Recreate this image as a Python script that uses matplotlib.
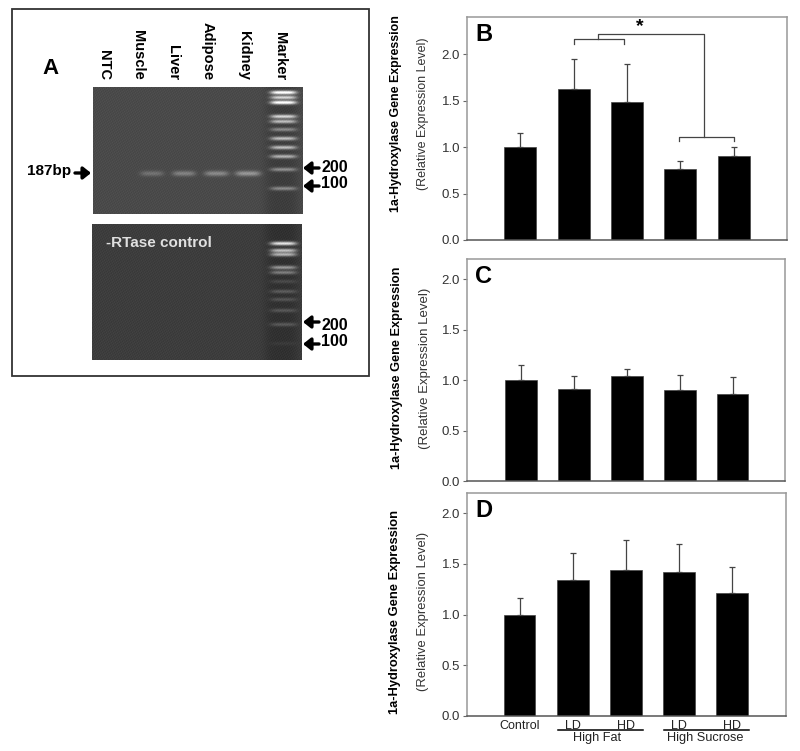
import numpy as np
import matplotlib
matplotlib.use("Agg")
import matplotlib.pyplot as plt
from matplotlib.patches import Rectangle

plt.rcParams["font.family"] = ["Liberation Sans", "DejaVu Sans"]

W, H = 800, 751

# bar panels
groups = ["Control", "LD", "HD", "LD", "HD"]
y_ticks = [0.0, 0.5, 1.0, 1.5, 2.0]
values_b = [1.00, 1.63, 1.49, 0.76, 0.90]
errors_b = [0.15, 0.32, 0.40, 0.09, 0.10]
values_c = [1.00, 0.91, 1.04, 0.90, 0.86]
errors_c = [0.15, 0.13, 0.07, 0.15, 0.17]
values_d = [1.00, 1.34, 1.44, 1.42, 1.21]
errors_d = [0.16, 0.27, 0.30, 0.28, 0.26]

# gel panel, band positions in pixels
lanes = ["NTC", "Muscle", "Liver", "Adipose", "Kidney", "Marker"]
lane_x = [104, 138, 173, 208, 244, 280]
sample_bands = [(140, 163, 0.16), (172, 195, 0.22), (204, 228, 0.25), (235, 260, 0.30)]
marker_top = [(92, 0.8), (97, 0.6), (102, 0.8), (116, 0.6), (121, 0.5), (129, 0.3),
              (138, 0.5), (147, 0.5), (156, 0.45), (169, 0.32), (188, 0.3)]
marker_bottom = [(243, 0.7), (250, 0.55), (254, 0.5), (267, 0.4), (272, 0.3), (281, 0.1),
                 (291, 0.17), (299, 0.14), (310, 0.15), (324, 0.16), (343, 0.04)]


def px_axes(fig, left, top, right, bottom):
    return fig.add_axes([left / W, 1 - bottom / H, (right - left) / W, (bottom - top) / H])


def gel_image(left, top, right, bottom, base, marker, samples=()):
    # soft bands on a dark background, with a faint fixed weave for the film grain
    yy, xx = np.mgrid[top:bottom, left:right]
    img = base + 0.012 * np.sin(xx * 1.7 + yy * 2.3) + 0.012 * np.sin(xx * 2.9 - yy * 1.3)
    img = img - 0.05 * np.exp(-((xx - 281) / 17.0) ** 4)
    for y, level in marker:
        img += level * np.exp(-((yy - y) / 1.9) ** 2) * np.exp(-((xx - 283) / 13.0) ** 4)
    for x0, x1, level in samples:
        mid, half = (x0 + x1) / 2, (x1 - x0) / 2
        img += level * np.exp(-((yy - 173) / 2.6) ** 2) * np.exp(-((xx - mid) / half) ** 4)
    return np.clip(img, 0, 1)


def bar_panel(fig, box, xlim, ylim, values, errors, letter, label_x, label_y, name_size, note_size):
    ax = px_axes(fig, *box)
    x = np.arange(len(values))
    ax.bar(x, values, width=0.6, color="black", edgecolor="#444444", linewidth=0.5,
           yerr=[np.zeros(len(errors)), errors], ecolor="#444444",
           error_kw={"elinewidth": 0.9, "capsize": 2.5, "capthick": 0.9})
    ax.set_xlim(*xlim)
    ax.set_ylim(*ylim)
    ax.set_yticks(y_ticks)
    ax.set_yticklabels([f"{t:.1f}" for t in y_ticks], fontsize=9.5, color="#333333")
    ax.set_xticks([])
    ax.tick_params(axis="y", length=3, width=0.8, color="#666666", pad=2)
    for side in ax.spines.values():
        side.set_color("#999999")
        side.set_linewidth(1.1)
    ax.spines["bottom"].set_color("#555555")
    ax.text(0.025, 0.975, letter, transform=ax.transAxes, fontsize=17, fontweight="bold",
            ha="left", va="top")
    fig.text(label_x[0] / W, 1 - label_y[0] / H, "1a-Hydroxylase Gene Expression", rotation=90,
             fontsize=name_size, fontweight="bold", ha="center", va="center")
    fig.text(label_x[1] / W, 1 - label_y[1] / H, "(Relative Expression Level)", rotation=90,
             fontsize=note_size, color="#333333", ha="center", va="center")
    return ax


fig = plt.figure(figsize=(W / 100, H / 100), dpi=100)

# panel A frame and labels live on one pixel-coordinate overlay
over = fig.add_axes([0, 0, 1, 1])
over.set_xlim(0, W)
over.set_ylim(H, 0)
over.axis("off")
over.add_patch(Rectangle((12, 9), 357, 367, fill=False, edgecolor="#333333", linewidth=1.3))

gel_top = px_axes(fig, 93, 87, 303, 214)
gel_top.imshow(gel_image(93, 87, 303, 214, 0.29, marker_top, sample_bands), cmap="gray",
               vmin=0, vmax=1, aspect="auto", interpolation="bilinear")
gel_top.axis("off")
gel_bottom = px_axes(fig, 92, 224, 302, 360)
gel_bottom.imshow(gel_image(92, 224, 302, 360, 0.24, marker_bottom), cmap="gray",
                  vmin=0, vmax=1, aspect="auto", interpolation="bilinear")
gel_bottom.axis("off")

arrow_style = dict(arrowstyle="-|>,head_width=0.36,head_length=0.45", lw=2.4, color="black",
                   shrinkA=0, shrinkB=0)
over.text(42, 69, "A", fontsize=16, fontweight="bold", ha="left", va="center")
for name, x in zip(lanes, lane_x):
    over.text(x, 80, name, rotation=270, fontsize=10.5, fontweight="bold", ha="center", va="bottom")
over.text(27, 171, "187bp", fontsize=11, fontweight="bold", ha="left", va="center")
over.annotate("", xy=(91, 173), xytext=(75, 173), arrowprops=arrow_style)
for y_arrow, y_text, txt in [(168, 168, "200"), (186, 184, "100"), (322, 325, "200"), (344, 342, "100")]:
    over.annotate("", xy=(303, y_arrow), xytext=(319, y_arrow), arrowprops=arrow_style)
    over.text(321, y_text, txt, fontsize=11.5, fontweight="bold", ha="left", va="center")
fig.text(106 / W, 1 - 243 / H, "-RTase control", fontsize=11, fontweight="bold", color="#e0e0e0",
         ha="left", va="center", zorder=5)

ax_b = bar_panel(fig, (467, 17, 787, 240), (-1, 5), (0, 2.4), values_b, errors_b, "B",
                 (396, 423), (114, 114), 8.9, 9.0)
ax_c = bar_panel(fig, (467, 259, 785, 481), (-1.02, 4.99), (0, 2.2), values_c, errors_c, "C",
                 (397, 425), (368, 368), 9.2, 9.5)
ax_d = bar_panel(fig, (467, 493, 786, 716), (-0.99, 5.02), (0, 2.2), values_d, errors_d, "D",
                 (395, 423), (612, 611), 9.3, 9.4)

# significance brackets on B
bracket = "#444444"
ax_b.plot([1, 1, 1.94, 1.94], [2.11, 2.165, 2.165, 2.11], color=bracket, lw=0.9)
ax_b.plot([1.45, 1.45, 3.45, 3.45], [2.165, 2.215, 2.215, 1.113], color=bracket, lw=0.9)
ax_b.plot([2.98, 2.98, 4, 4], [1.065, 1.113, 1.113, 1.065], color=bracket, lw=0.9)
ax_b.text(2.24, 2.3, "*", fontsize=14, fontweight="bold", ha="center", va="center")

# group labels under D
ax_d.set_xticks(range(len(groups)))
ax_d.set_xticklabels(groups, fontsize=9, color="#222222")
ax_d.tick_params(axis="x", length=0, pad=3)
ax_d.plot([0.73, 2.33], [-0.135, -0.135], color="black", lw=1.1, clip_on=False)
ax_d.plot([2.72, 4.32], [-0.135, -0.135], color="black", lw=1.1, clip_on=False)
ax_d.text(1.46, -0.215, "High Fat", fontsize=9.2, color="#222222", ha="center", va="center")
ax_d.text(3.5, -0.215, "High Sucrose", fontsize=9.2, color="#222222", ha="center", va="center")

fig.savefig("out.png", dpi=100)
